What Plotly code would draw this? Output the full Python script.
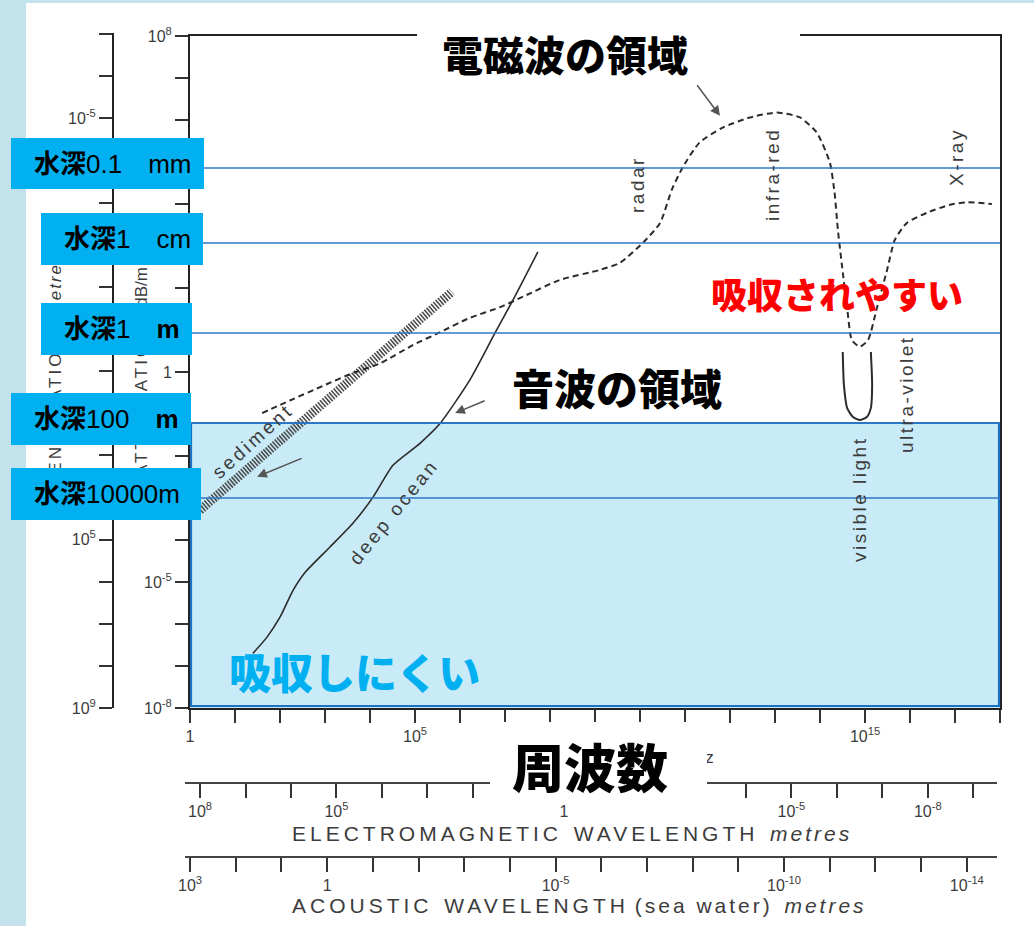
import math
import plotly.graph_objects as go

W, H = 1034, 926
SANS = "Liberation Sans, Arial, Helvetica, sans-serif"
CJK = "Noto Sans CJK JP, sans-serif"
MIX = "Liberation Sans, Noto Sans CJK JP, sans-serif"
INK = "#2b2b2b"
GREY = "#3c3c3c"

# ---- attenuation curves: frequency (Hz) vs attenuation (dB/m) ----
ocean_freq = [25, 51, 100, 195, 363, 1290, 4170, 11700, 32400, 129000, 363000,
              1.66e6, 6.0e6, 1.51e7, 5.37e7]
ocean_att = [2.0e-7, 4.8e-7, 1.45e-6, 6.3e-6, 1.7e-5, 6.8e-5, 2.5e-4, 1.05e-3,
             6.0e-3, 2.0e-2, 6.0e-2, 0.65, 8.5, 52, 720]

sediment_freq = [1.66, 6.6e5]
sediment_att = [5.1e-4, 81]

em_freq = [40, 166, 910, 4200, 16600, 91000, 3.63e5, 1.66e6, 7.8e6, 3.1e7,
           1.66e8, 1.29e9, 3.6e9, 1.17e10, 2.8e10, 5.1e10, 9.1e10, 2.1e11, 6.9e11, 2.8e12,
           1.1e13, 3.6e13, 8.5e13, 1.66e14, 2.1e14, 2.5e14, 3.1e14, 4.0e14, 5.1e14, 7.7e14,
           1.17e15, 1.86e15, 3.1e15, 4.6e15, 8.5e15, 2.4e16, 7.8e16, 1.86e17, 6.6e17]
em_att = [0.105, 0.21, 0.47, 0.95, 1.6, 4.4, 8.9, 19.5, 35, 69,
          156, 270, 400, 1200, 3550, 2.2e4, 7.8e4, 2.9e5, 6.6e5, 1.15e6,
          1.5e6, 1.15e6, 5.0e5, 9.6e4, 1.9e4, 2400, 320, 35, 5.8, 4.0,
          5.8, 35, 270, 1400, 3550, 6200, 9600, 1.1e4, 1.0e4]

# visible-light window in sea water
vis_freq = [3.2e14, 3.4e14, 4.0e14, 5.4e14, 7.7e14, 1.1e15, 1.35e15, 1.44e15, 1.35e15]
vis_att = [3.0, 0.49, 0.14, 0.085, 0.072, 0.085, 0.14, 0.49, 3.0]

# arrow tips (Hz, dB/m)
arrow_freq = [6.0e11, 7.8e5, 31]
arrow_att = [1.26e6, 0.105, 3.2e-3]

# ---- tick labels (decade exponent -> label) ----
freq_labels = {0: "1", 5: "10<sup>5</sup>", 15: "10<sup>15</sup>"}
att_labels = {8: "10<sup>8</sup>", 0: "1", -5: "10<sup>-5</sup>", -8: "10<sup>-8</sup>"}
depth_axis_labels = {-5: "10<sup>-5</sup>", 5: "10<sup>5</sup>", 9: "10<sup>9</sup>"}
em_wl_labels = {8: "10<sup>8</sup>", 5: "10<sup>5</sup>", 0: "1", -5: "10<sup>-5</sup>", -8: "10<sup>-8</sup>"}
ac_wl_labels = {3: "10<sup>3</sup>", 0: "1", -5: "10<sup>-5</sup>", -10: "10<sup>-10</sup>", -14: "10<sup>-14</sup>"}

# ---- water-depth markers ----
depth_texts = ["<b>水深</b>0.1\u3000mm", "<b>水深</b>1\u3000cm", "<b>水深</b>1\u3000<b>m</b>",
               "<b>水深</b>100\u3000<b>m</b>", "<b>水深</b>10000m"]


def px(x):
    return x / W


def py(y):
    return 1 - y / H


def decade_axis(lo, hi, shown):
    ks = list(range(lo, hi + 1))
    return [10.0 ** k for k in ks], [shown.get(k, "") for k in ks]


fig = go.Figure()
fig.add_trace(go.Scatter(x=sediment_freq, y=sediment_att, mode="lines",
                         line=dict(color="#4d4d4d", width=9, dash="1.6px,1.4px"),
                         hoverinfo="skip"))
fig.add_trace(go.Scatter(x=em_freq, y=em_att, mode="lines",
                         line=dict(color=INK, width=2, dash="6px,4px", shape="spline", smoothing=0.6),
                         hoverinfo="skip"))
fig.add_trace(go.Scatter(x=vis_freq, y=vis_att, mode="lines",
                         line=dict(color=INK, width=2, shape="spline", smoothing=0.6),
                         hoverinfo="skip"))
fig.add_trace(go.Scatter(x=ocean_freq, y=ocean_att, mode="lines",
                         line=dict(color=INK, width=1.6, shape="spline", smoothing=0.6),
                         hoverinfo="skip"))
# register the secondary scales
for xa, ya in (("x2", "y"), ("x3", "y"), ("x", "y2")):
    fig.add_trace(go.Scatter(x=[], y=[], xaxis=xa, yaxis=ya, hoverinfo="skip"))

tickfont = dict(family=SANS, size=16, color=GREY)
common = dict(type="log", showgrid=False, zeroline=False, ticks="outside",
              tickfont=tickfont, tickcolor="#333", tickwidth=1.5)

fv, ft = decade_axis(0, 18, freq_labels)
av, at = decade_axis(-8, 8, att_labels)
dv, dt = decade_axis(-7, 9, depth_axis_labels)
ev, et = decade_axis(-9, 8, em_wl_labels)
cv, ct = decade_axis(-14, 3, ac_wl_labels)

fig.update_layout(
    width=W, height=H, margin=dict(l=0, r=0, t=0, b=0, pad=0, autoexpand=False),
    paper_bgcolor="#c4e2eb", plot_bgcolor="rgba(0,0,0,0)", showlegend=False,
    xaxis=dict(common, domain=[px(190), px(1000)], range=[0, 18], anchor="y",
               showline=True, linecolor="#222", linewidth=2, mirror=True,
               ticklen=13, tickvals=fv, ticktext=ft),
    yaxis=dict(common, domain=[py(708), py(36)], range=[-8, 8], anchor="x",
               showline=True, linecolor="#222", linewidth=2, mirror=True,
               ticklen=13, tickvals=av, ticktext=at),
    yaxis2=dict(common, domain=[py(708), py(33)], range=[9, -7.03], anchor="free",
                position=px(113), side="left", showline=True, linecolor="#222", linewidth=2,
                ticklen=13, tickvals=dv, ticktext=dt),
    xaxis2=dict(common, domain=[px(185), px(997)], range=[8.33, -9.52], anchor="free",
                position=py(783), side="bottom", showline=True, linecolor="#444", linewidth=1.5,
                ticklen=14, tickvals=ev, ticktext=et),
    xaxis3=dict(common, domain=[px(185), px(997)], range=[3.11, -14.66], anchor="free",
                position=py(857), side="bottom", showline=True, linecolor="#444", linewidth=1.5,
                ticklen=14, tickvals=cv, ticktext=ct),
)

# depth boxes: (x0, x1, y0, y1, line y)
depth_boxes = [(11, 204, 138, 189, 168), (41, 203, 213, 265, 243), (41, 192, 303, 355, 333),
               (11, 191, 393, 445, 423), (11, 201, 468, 520, 498)]

shapes = [
    # white sheet
    dict(type="rect", xref="paper", yref="paper", x0=px(26), x1=1, y0=0, y1=py(3),
         fillcolor="white", line_width=0, layer="below"),
    # low-absorption band
    dict(type="rect", xref="paper", yref="paper", x0=px(190), x1=px(1000), y0=py(708), y1=py(423),
         fillcolor="#c9ebf8", line_width=0, layer="below"),
    dict(type="rect", xref="paper", yref="paper", x0=px(191), x1=px(999), y0=py(706), y1=py(423),
         fillcolor="rgba(0,0,0,0)", line=dict(color="#1b72c2", width=2.2), layer="above"),
    # plate behind the top headline
    dict(type="rect", xref="paper", yref="paper", x0=px(417), x1=px(800), y0=py(82), y1=py(20),
         fillcolor="white", line_width=0, layer="above"),
]
for (x0, x1, y0, y1, yl) in depth_boxes:
    shapes.append(dict(type="line", xref="paper", yref="paper", x0=px(x1), x1=px(1000),
                       y0=py(yl), y1=py(yl), line=dict(color="#2f78c4", width=1.5), layer="above"))
fig.update_layout(shapes=shapes)

ann = []


def text(x, y, s, size, color=GREY, angle=0, family=SANS, xanchor="center", weight=None):
    f = dict(family=family, size=size, color=color)
    if weight:
        f["weight"] = weight
    ann.append(dict(x=px(x), y=py(y), xref="paper", yref="paper", text=s, showarrow=False,
                    textangle=angle, font=f, xanchor=xanchor, yanchor="middle"))


def plate(x0, x1, y0, y1, color):
    ann.append(dict(x=px(x0), y=py(y0), xref="paper", yref="paper", xanchor="left", yanchor="top",
                    text="\u00a0", showarrow=False, width=x1 - x0, height=y1 - y0,
                    bgcolor=color, borderpad=0, borderwidth=0, font=dict(size=4)))


def spaced(s, sp):
    return "<span style='letter-spacing:%spx'>%s</span>" % (sp, s)


# axis titles
text(55, 370, spaced("PENETRATION", 3) + "    " + spaced("<i>metres</i>", 2), 17, angle=-90)
text(142, 372, spaced("ATTENUATION", 3) + "    dB/m", 17, angle=-90)
text(716, 757, spaced("FREQUENCY", 3) + "   Hz", 17, xanchor="right")
text(290, 833, spaced("ELECTROMAGNETIC", 4) + "  " + spaced("WAVELENGTH", 4) + "  " + spaced("<i>metres</i>", 3),
     21, xanchor="left")
text(290, 905, spaced("ACOUSTIC", 4) + "  " + spaced("WAVELENGTH", 4) + " " + spaced("(sea water)", 3) + "  "
     + spaced("<i>metres</i>", 3), 21, xanchor="left")

# band labels along the curves
text(637, 185, spaced("radar", 2.5), 19, angle=-90)
text(773, 175, spaced("infra-red", 2.5), 19, angle=-90)
text(957, 157, spaced("X-ray", 2.5), 19, angle=-90)
text(907, 394, spaced("ultra-violet", 2.5), 19, angle=-90)
text(860, 500, spaced("visible light", 2.5), 19, angle=-90)
text(252, 441, spaced("sediment", 3), 19, angle=-42)
text(393, 512, spaced("deep ocean", 3), 19, angle=-51)

# headline texts
text(565, 53, "電磁波の領域", 41, color="#000", family=CJK, weight=900)
text(617, 386, "音波の領域", 42, color="#000", family=CJK, weight=900)
plate(490, 707, 722, 800, "white")
text(590, 765, "周波数", 52, color="#000", family=CJK, weight=900)
text(837, 293, "吸収されやすい", 36, color="#ff0000", family=CJK, weight=900)
text(354, 670, "吸収しにくい", 42, color="#00b0f0", family=CJK, weight=900)

# depth labels
for (x0, x1, y0, y1, yl), s in zip(depth_boxes, depth_texts):
    plate(x0, x1, y0, y1, "#00b0f0")
    text(x0 + 21, (y0 + y1) / 2, s, 26, color="#000", family=MIX, xanchor="left")

# arrows pointing to the curves
for f, a, dx, dy in zip(arrow_freq, arrow_att, [-24, 31, 46], [-32, -13, -19]):
    ann.append(dict(x=math.log10(f), y=math.log10(a), xref="x", yref="y", text="", showarrow=True,
                    ax=dx, ay=dy, arrowhead=2, arrowsize=1.3, arrowwidth=1.5, arrowcolor="#555",
                    standoff=0))

fig.update_layout(annotations=ann)
fig.write_html("out.html")
